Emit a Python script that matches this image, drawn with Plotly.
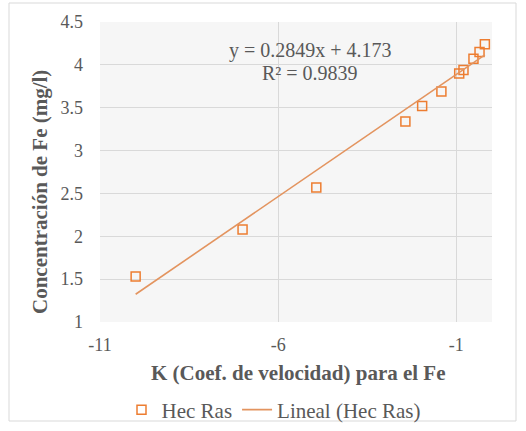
import plotly.graph_objects as go

# Rate coefficient K versus Fe concentration (Hec Ras run)
k_values = [-10.0, -7.0, -4.93, -2.43, -1.96, -1.42, -0.92, -0.80, -0.52, -0.35, -0.20]
fe_conc = [1.53, 2.08, 2.57, 3.34, 3.52, 3.69, 3.90, 3.94, 4.07, 4.15, 4.24]

# Linear trendline coefficients
slope = 0.2849
intercept = 4.173
r_squared = 0.9839

x_ticks = [-11, -6, -1]
y_ticks = [1, 1.5, 2, 2.5, 3, 3.5, 4, 4.5]
y_tick_text = ["1", "1.5", "2", "2.5", "3", "3.5", "4", "4.5"]

series_color = "#ED7D31"
trend_color = "#E3945F"
text_color = "#595959"
grid_color = "#d9d9d9"
serif = "Liberation Serif, Times New Roman, serif"

W, H = 526, 431
L, R, T, B = 100, 34, 22, 109
pw, ph = W - L - R, H - T - B


def px(x):
    return (x - L) / pw


def py(y):
    return (H - B - y) / ph


trend_x = [min(k_values), max(k_values)]
trend_y = [slope * v + intercept for v in trend_x]

fig = go.Figure()
fig.add_trace(go.Scatter(
    x=k_values, y=fe_conc, mode="markers", name="Hec Ras",
    marker=dict(symbol="square-open", size=9, color=series_color,
                line=dict(width=1.5, color=series_color)),
))
fig.add_trace(go.Scatter(
    x=trend_x, y=trend_y, mode="lines", name="Lineal (Hec Ras)",
    line=dict(color=trend_color, width=1.6),
))

fig.update_layout(
    width=W, height=H,
    margin=dict(l=L, r=R, t=T, b=B, autoexpand=False),
    paper_bgcolor="white",
    plot_bgcolor="#f6f6f6",
    font=dict(family=serif, size=18, color=text_color),
    showlegend=True,
    legend=dict(orientation="h", x=274 / W, xanchor="center", xref="container",
                y=(H - 410) / H, yanchor="middle", yref="container",
                font=dict(family=serif, size=21, color=text_color),
                bgcolor="rgba(0,0,0,0)", itemwidth=30, tracegroupgap=0),
    xaxis=dict(range=[-11, 0], tickvals=x_ticks,
               ticktext=[str(v) for v in x_ticks],
               showgrid=True, gridcolor=grid_color, gridwidth=1,
               zeroline=False, showline=False, ticks="", automargin=False,
               ticklabelstandoff=10,
               tickfont=dict(family=serif, size=18, color=text_color)),
    yaxis=dict(range=[1, 4.5], tickvals=y_ticks, ticktext=y_tick_text,
               showgrid=True, gridcolor=grid_color, gridwidth=1,
               zeroline=False, showline=False, ticks="", automargin=False,
               ticklabelstandoff=16,
               tickfont=dict(family=serif, size=18, color=text_color)),
    annotations=[
        dict(x=px(298), y=py(373), xref="paper", yref="paper",
             text="<b>K (Coef. de velocidad) para el Fe</b>",
             showarrow=False, xanchor="center", yanchor="middle",
             font=dict(family=serif, size=21, color=text_color)),
        dict(x=px(40), y=py(192), xref="paper", yref="paper",
             text="<b>Concentración de Fe (mg/l)</b>", textangle=-90,
             showarrow=False, xanchor="center", yanchor="middle",
             font=dict(family=serif, size=21, color=text_color)),
        dict(x=-5.1, y=4.17, xref="x", yref="y",
             text=f"y = {slope}x + {intercept}", showarrow=False,
             xanchor="center", yanchor="middle",
             font=dict(family=serif, size=20, color=text_color)),
        dict(x=-5.1, y=3.90, xref="x", yref="y",
             text=f"R² = {r_squared}", showarrow=False,
             xanchor="center", yanchor="middle",
             font=dict(family=serif, size=20, color=text_color)),
    ],
    shapes=[
        dict(type="rect", xref="paper", yref="paper",
             x0=px(9), x1=px(516), y0=py(421), y1=py(3),
             line=dict(color="#d9d9d9", width=1), layer="below"),
    ],
)

fig.write_html("out.html")
